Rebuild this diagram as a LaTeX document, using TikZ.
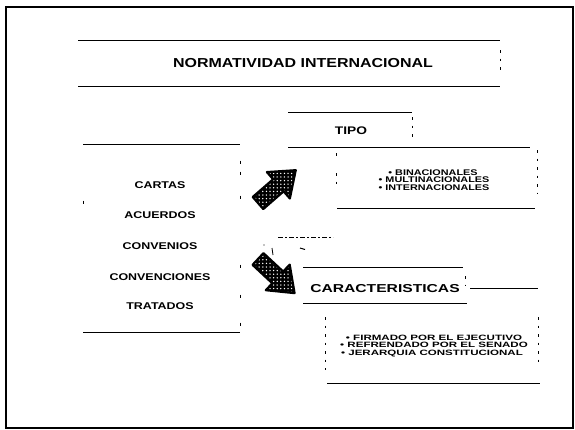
\documentclass[tikz,border=0pt]{standalone}
\usepackage{fontspec}
\setmainfont{Liberation Sans}
\usetikzlibrary{patterns}
\pgfdeclarepatternformonly{sparsedots}{\pgfqpoint{-1pt}{-1pt}}{\pgfqpoint{1pt}{1pt}}{\pgfqpoint{3.6pt}{3.6pt}}{\pgfpathcircle{\pgfqpoint{0pt}{0pt}}{0.75pt}\pgfusepath{fill}}
\newcommand{\wide}[2]{\scalebox{#1}[1]{#2}}
\tikzset{
  boxline/.style={line width=1pt, black},
  sidedash/.style={line width=0.9pt, dash pattern=on 2.5pt off 6pt},
  tick/.style={line width=1pt},
  frameline/.style={line width=1.8pt},
  lbl/.style={inner sep=0pt, anchor=base, font=\bfseries},
  blockarrow/.style={line width=2.2pt, line join=round}
}
\newcommand{\arrowpath}{(0,-8) -- (27,-8) -- (27,-17.5) -- (50,0) -- (27,17.5) -- (27,8) -- (0,8) -- cycle}
\begin{document}
\begin{tikzpicture}[x=1pt,y=-1pt]
\useasboundingbox (0,0) rectangle (575,429);
% frame
\draw[frameline] (6,7) rectangle (573,428);
% title box
\draw[boxline] (78,40) -- (500,40);
\draw[boxline] (78,86) -- (500,86);
\draw[sidedash] (500,50) -- (500,72);
\node[lbl, font=\bfseries\fontsize{13}{15}\selectfont] (title) at (303,67.6) {\wide{1.23}{NORMATIVIDAD INTERNACIONAL}};
% TIPO box
\draw[boxline] (288,112) -- (412,112);
\draw[boxline] (288,147) -- (530,147);
\draw[sidedash] (412,117) -- (412,140);
\node[lbl, font=\bfseries\fontsize{11}{13}\selectfont] (tipo) at (351,134) {\wide{1.25}{TIPO}};
% list 1
\draw[boxline] (337,208) -- (535,208);
\draw[sidedash] (537,150) -- (537,194);
\draw[sidedash] (336,153) -- (336,160);
\draw[sidedash] (336,173) -- (336,188);
\node[lbl, font=\bfseries\fontsize{8.2}{9}\selectfont] (bin) at (433,175) {\wide{1.32}{• BINACIONALES}};
\node[lbl, font=\bfseries\fontsize{8.2}{9}\selectfont] (mul) at (434,182.5) {\wide{1.32}{• MULTINACIONALES}};
\node[lbl, font=\bfseries\fontsize{8.2}{9}\selectfont] (int) at (434,190) {\wide{1.32}{• INTERNACIONALES}};
% left box
\draw[boxline] (83,144) -- (240,144);
\draw[boxline] (83,332) -- (240,332);
\foreach \yy in {162,173,197,266,296,324} \draw[tick] (240,\yy-1.5) -- (240,\yy+1.5);
\draw[tick] (83,200.5) -- (83,203.5);
\node[lbl, font=\bfseries\fontsize{9.8}{11}\selectfont] (cartas) at (160,188.5) {\wide{1.27}{CARTAS}};
\node[lbl, font=\bfseries\fontsize{9.8}{11}\selectfont] (acuerdos) at (160,218.5) {\wide{1.27}{ACUERDOS}};
\node[lbl, font=\bfseries\fontsize{9.8}{11}\selectfont] (convenios) at (160,249.5) {\wide{1.27}{CONVENIOS}};
\node[lbl, font=\bfseries\fontsize{9.8}{11}\selectfont] (convenciones) at (160,280.5) {\wide{1.27}{CONVENCIONES}};
\node[lbl, font=\bfseries\fontsize{9.8}{11}\selectfont] (tratados) at (160,309.5) {\wide{1.27}{TRATADOS}};
% CARACTERISTICAS box
\draw[boxline] (303,267) -- (463,267);
\draw[boxline] (303,303) -- (467,303);
\draw[sidedash] (465,276) -- (465,286);
\draw[boxline] (470,288) -- (538,288);
\node[lbl, font=\bfseries\fontsize{11.5}{13}\selectfont] (carac) at (385,292.5) {\wide{1.36}{CARACTERISTICAS}};
% list 2
\draw[boxline] (327,383) -- (540,383);
\draw[sidedash] (325,317) -- (325,370);
\draw[sidedash] (538,317) -- (538,364);
\node[lbl, font=\bfseries\fontsize{7.7}{9}\selectfont] (firm) at (434,340) {\wide{1.5}{• FIRMADO POR EL EJECUTIVO}};
\node[lbl, font=\bfseries\fontsize{7.7}{9}\selectfont] (refr) at (434,347.5) {\wide{1.5}{• REFRENDADO POR EL SENADO}};
\node[lbl, font=\bfseries\fontsize{7.7}{9}\selectfont] (jer) at (432,355) {\wide{1.5}{• JERARQUIA CONSTITUCIONAL}};
% small marks
\draw[line width=0.9pt, dash pattern=on 5pt off 2pt on 2pt off 2pt] (278,237) -- (333,237);
\fill (264,245) circle (0.7pt);
\draw[line width=0.8pt] (272,248) -- (273,255);
\draw[line width=1pt] (300,248) -- (305,249.5);
% arrows
\begin{scope}[shift={(258,203)}, rotate=41]
  \fill[black] \arrowpath;
  \fill[pattern=sparsedots, pattern color=white] \arrowpath;
  \draw[blockarrow] \arrowpath;
\end{scope}
\begin{scope}[shift={(258,259)}, rotate=-43]
  \fill[black] \arrowpath;
  \fill[pattern=sparsedots, pattern color=white] \arrowpath;
  \draw[blockarrow] \arrowpath;
\end{scope}
\end{tikzpicture}
\end{document}
